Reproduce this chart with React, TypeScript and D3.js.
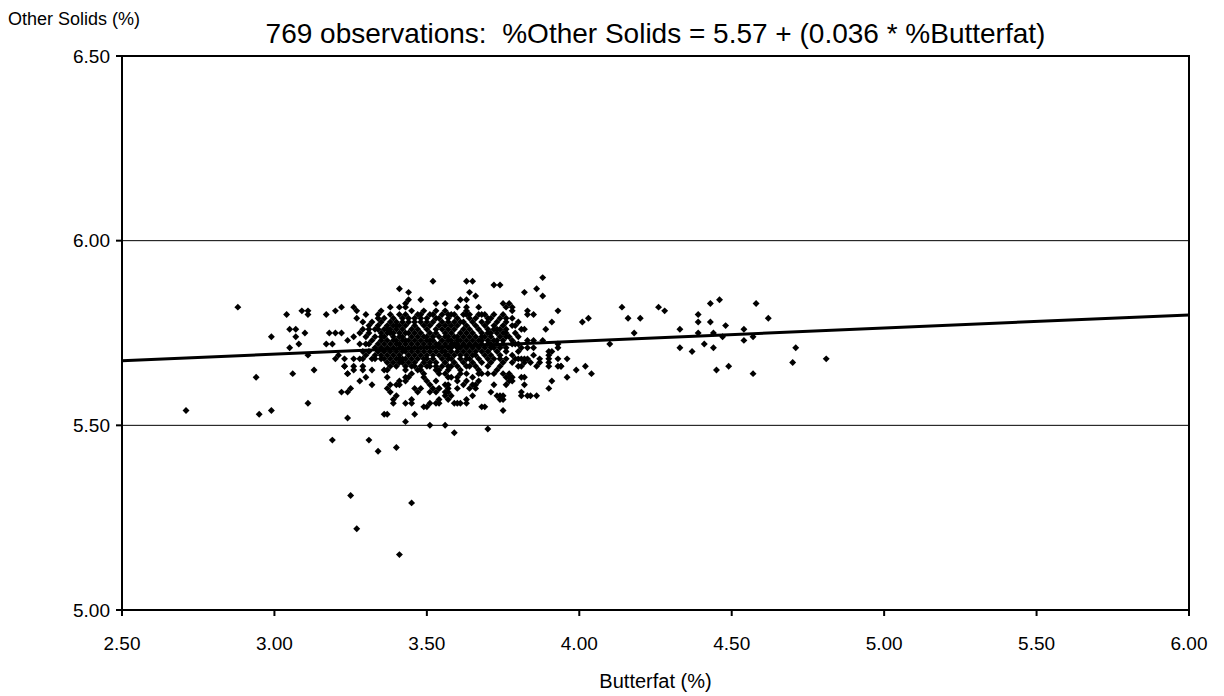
import React from 'react';
import * as d3 from 'd3';

// values
const xTicks = [2.5, 3.0, 3.5, 4.0, 4.5, 5.0, 5.5, 6.0];
const yTicks = [5.0, 5.5, 6.0, 6.5];
const gridValues = [5.5, 6.0];
const fitLine: [number, number][] = [[2.5, 5.675], [6.0, 5.799]];

const sparseLeft: [number, number][] = [
  [2.71,5.54],[2.88,5.82],[2.94,5.63],[2.95,5.53],[2.99,5.54],[2.99,5.74],[3.04,5.80],[3.05,5.76],[3.05,5.71],[3.06,5.64],
  [3.07,5.76],[3.07,5.74],[3.08,5.72],[3.09,5.81],[3.10,5.75],[3.11,5.81],[3.11,5.80],[3.11,5.69],[3.11,5.56],[3.13,5.65],
  [3.17,5.80],[3.17,5.72],[3.18,5.75],[3.19,5.72],[3.20,5.81],[3.21,5.69],[3.22,5.82],[3.22,5.75],[3.22,5.59],[3.23,5.66],
  [3.24,5.64],[3.24,5.59],[3.24,5.52],[3.25,5.60],[3.26,5.82],[3.26,5.66],[3.26,5.68],[3.26,5.65],[3.27,5.81],[3.28,5.68],
  [3.28,5.62],[3.29,5.65],[3.30,5.80],[3.30,5.63],[3.32,5.65],[3.32,5.61],[3.34,5.80],[3.27,5.79],[3.29,5.78],[3.34,5.79],
  [3.35,5.81],[3.26,5.74],[3.28,5.75],[3.24,5.73],[3.28,5.72],[3.30,5.72],[3.29,5.70],[3.20,5.68],[3.23,5.68],[3.29,5.68],
  [3.32,5.68],[3.20,5.75],[3.23,5.66],[3.24,5.64],
];

const lowPoints: [number, number][] = [
  [3.19,5.46],[3.31,5.46],[3.34,5.43],[3.40,5.44],[3.25,5.31],[3.27,5.22],[3.41,5.15],[3.45,5.29],[3.59,5.48],[3.51,5.50],
  [3.56,5.50],[3.70,5.49],[3.43,5.51],[3.36,5.53],[3.37,5.53],[3.46,5.53],[3.68,5.55],[3.75,5.54],[3.69,5.55],
];

const upperPoints: [number, number][] = [
  [3.52,5.89],[3.63,5.89],[3.65,5.89],[3.72,5.88],[3.74,5.88],[3.88,5.90],[3.82,5.86],[3.86,5.87],[3.88,5.85],[3.41,5.87],
  [3.44,5.86],[3.64,5.86],[3.66,5.85],[3.48,5.84],[3.53,5.83],[3.56,5.83],[3.61,5.84],[3.63,5.84],[3.63,5.82],[3.60,5.82],
  [3.75,5.83],[3.77,5.83],[3.76,5.82],[3.78,5.82],[3.78,5.81],[3.83,5.81],[3.83,5.80],[3.85,5.80],[3.93,5.81],[3.38,5.82],
  [3.41,5.82],[3.43,5.82],[3.43,5.83],[3.44,5.84],[3.72,5.80],[3.70,5.79],[3.68,5.80],[3.69,5.80],[3.76,5.79],[3.67,5.82],
  [3.63,5.81],[3.63,5.80],[3.64,5.80],[3.58,5.80],[3.56,5.81],[3.57,5.80],[3.61,5.78],[3.41,5.80],[3.42,5.78],[3.44,5.79],
  [3.45,5.81],[3.47,5.80],[3.49,5.81],[3.51,5.80],[3.53,5.81],[3.53,5.79],[3.55,5.80],[3.32,5.78],[3.34,5.76],[3.37,5.76],
  [3.39,5.75],[3.40,5.77],[3.78,5.77],[3.82,5.76],[3.81,5.76],[3.91,5.78],[3.89,5.76],[3.73,5.76],[3.75,5.75],[3.77,5.74],
  [3.78,5.73],
];

const sideCorePoints: [number, number][] = [
  [3.72,5.73],[3.75,5.72],[3.78,5.72],[3.80,5.72],[3.81,5.71],[3.85,5.71],[3.88,5.73],[3.85,5.73],[3.90,5.70],[3.91,5.70],
  [3.93,5.71],[3.93,5.72],[3.93,5.68],[3.90,5.69],[3.90,5.68],[3.90,5.67],[3.87,5.67],[3.87,5.68],[3.85,5.69],[3.83,5.68],
  [3.81,5.68],[3.82,5.68],[3.80,5.68],[3.79,5.68],[3.76,5.68],[3.74,5.69],[3.76,5.70],[3.74,5.68],[3.78,5.67],[3.80,5.66],
  [3.82,5.67],[3.84,5.67],[3.86,5.66],[3.90,5.66],[3.94,5.66],[3.96,5.68],
];

const lowerPoints: [number, number][] = [
  [3.77,5.64],[3.78,5.63],[3.72,5.61],[3.60,5.60],[3.62,5.61],[3.66,5.61],[3.67,5.62],[3.57,5.61],[3.54,5.60],[3.53,5.59],
  [3.51,5.59],[3.53,5.65],[3.54,5.64],[3.57,5.63],[3.60,5.63],[3.64,5.66],[3.63,5.64],[3.65,5.63],[3.49,5.64],[3.47,5.65],
  [3.50,5.66],[3.44,5.63],[3.43,5.65],[3.42,5.67],[3.41,5.68],[3.36,5.68],[3.38,5.66],[3.36,5.65],[3.29,5.66],[3.33,5.68],
  [3.43,5.56],[3.45,5.56],[3.49,5.55],[3.50,5.55],[3.53,5.56],[3.54,5.56],[3.57,5.57],[3.58,5.58],[3.59,5.56],[3.61,5.56],
  [3.63,5.56],[3.65,5.58],[3.73,5.58],[3.74,5.58],[3.81,5.58],[3.83,5.58],[3.86,5.58],[3.90,5.60],[3.91,5.62],[3.81,5.63],
  [3.81,5.66],[3.93,5.66],[3.38,5.61],[3.38,5.59],[3.40,5.58],[3.39,5.56],[3.41,5.62],[3.43,5.62],[3.46,5.60],[3.48,5.60],
  [3.47,5.59],[3.37,5.60],[3.39,5.57],[3.45,5.57],[3.51,5.56],[3.54,5.57],[3.56,5.58],[3.52,5.60],[3.54,5.60],[3.56,5.59],
  [3.37,5.65],[3.37,5.63],[3.40,5.61],[3.41,5.61],[3.43,5.63],[3.45,5.64],[3.45,5.66],[3.48,5.65],[3.49,5.63],[3.50,5.62],
  [3.51,5.61],[3.53,5.62],[3.54,5.65],[3.56,5.64],[3.57,5.65],[3.56,5.61],[3.57,5.66],[3.58,5.63],[3.57,5.60],[3.57,5.59],
  [3.60,5.56],[3.61,5.64],[3.61,5.65],[3.60,5.62],[3.63,5.62],[3.67,5.65],[3.67,5.64],[3.65,5.61],[3.66,5.60],[3.64,5.60],
  [3.63,5.57],[3.68,5.64],[3.70,5.64],[3.72,5.64],[3.73,5.65],[3.74,5.66],[3.75,5.64],[3.76,5.63],[3.77,5.63],[3.78,5.62],
  [3.77,5.62],[3.71,5.59],[3.75,5.58],[3.75,5.57],[3.74,5.57],[3.76,5.61],[3.82,5.63],[3.82,5.61],[3.81,5.59],[3.84,5.58],
  [3.96,5.63],[3.99,5.65],
];

const rightPoints: [number, number][] = [
  [3.94,5.66],[4.02,5.66],[4.04,5.64],[4.01,5.78],[4.03,5.79],[4.14,5.82],[4.16,5.79],[4.20,5.79],[4.18,5.75],[4.26,5.82],
  [4.28,5.81],[4.10,5.72],[4.33,5.76],[4.33,5.71],[4.37,5.70],[4.41,5.72],[4.39,5.80],[4.39,5.78],[4.39,5.75],[4.43,5.83],
  [4.46,5.84],[4.43,5.78],[4.44,5.75],[4.44,5.71],[4.48,5.77],[4.47,5.74],[4.45,5.65],[4.49,5.66],[4.58,5.83],[4.54,5.76],
  [4.54,5.73],[4.57,5.74],[4.62,5.79],[4.57,5.64],[4.70,5.67],[4.71,5.71],[4.81,5.68],
];

// dense middle of the cloud, one row per %Other Solids value
const coreRows: [number, number[]][] = [
  [5.80, [3.38,3.43,3.48,3.52,3.59,3.62,3.67,3.75]],
  [5.79, [3.36,3.39,3.42,3.46,3.48,3.50,3.54,3.57,3.60,3.64,3.66,3.71,3.74,3.78]],
  [5.78, [3.35,3.38,3.40,3.44,3.46,3.48,3.50,3.52,3.55,3.57,3.59,3.62,3.65,3.68,3.70,3.73,3.76,3.80]],
  [5.77, [3.31,3.34,3.37,3.39,3.41,3.43,3.46,3.49,3.51,3.54,3.56,3.58,3.60,3.63,3.66,3.69,3.72,3.75,3.79]],
  [5.76, [3.29,3.31,3.33,3.36,3.38,3.40,3.42,3.45,3.47,3.50,3.53,3.55,3.57,3.59,3.62,3.64,3.67,3.70,3.72,3.74,3.76]],
  [5.75, [3.31,3.35,3.37,3.38,3.41,3.43,3.44,3.46,3.48,3.51,3.53,3.56,3.58,3.61,3.63,3.65,3.68,3.70,3.71,3.73,3.76,3.79]],
  [5.74, [3.30,3.33,3.35,3.36,3.39,3.41,3.42,3.45,3.47,3.49,3.50,3.52,3.54,3.56,3.57,3.59,3.60,3.62,3.64,3.66,3.68,3.69,3.71,3.74,3.76,3.80]],
  [5.73, [3.32,3.35,3.37,3.39,3.40,3.42,3.43,3.44,3.46,3.48,3.50,3.51,3.52,3.55,3.57,3.58,3.60,3.61,3.63,3.65,3.67,3.68,3.70,3.73,3.75,3.83]],
  [5.72, [3.31,3.34,3.36,3.38,3.40,3.41,3.43,3.45,3.47,3.49,3.51,3.53,3.54,3.56,3.58,3.59,3.60,3.62,3.64,3.66,3.68,3.70,3.71,3.73,3.79]],
  [5.71, [3.33,3.35,3.37,3.39,3.41,3.42,3.44,3.46,3.48,3.50,3.52,3.54,3.55,3.57,3.58,3.60,3.61,3.63,3.65,3.67,3.69,3.71,3.72,3.74,3.76,3.83]],
  [5.70, [3.31,3.34,3.36,3.38,3.40,3.42,3.43,3.45,3.47,3.49,3.51,3.53,3.55,3.56,3.58,3.60,3.62,3.64,3.66,3.68,3.70,3.73,3.80]],
  [5.69, [3.30,3.33,3.35,3.37,3.39,3.41,3.44,3.46,3.48,3.50,3.52,3.54,3.56,3.57,3.59,3.61,3.63,3.65,3.66,3.69,3.71,3.78]],
  [5.68, [3.35,3.38,3.40,3.42,3.43,3.45,3.47,3.49,3.50,3.52,3.55,3.57,3.58,3.61,3.63,3.64,3.67,3.70,3.72]],
  [5.67, [3.37,3.39,3.41,3.44,3.46,3.49,3.51,3.53,3.56,3.59,3.62,3.65,3.68,3.71,3.75]],
  [5.66, [3.40,3.43,3.46,3.48,3.51,3.53,3.55,3.58,3.60,3.63,3.66,3.70]],
];

const width = 1224;
const height = 696;
const margin = { top: 56, right: 35, bottom: 86, left: 122 };
const font = 'Arial, "Liberation Sans", sans-serif';

const App: React.FC = () => {
  const innerW = width - margin.left - margin.right;
  const innerH = height - margin.top - margin.bottom;
  const x = d3.scaleLinear().domain([2.5, 6.0]).range([0, innerW]);
  const y = d3.scaleLinear().domain([5.0, 6.5]).range([innerH, 0]);
  const fmt = d3.format('.2f');

  const corePoints: [number, number][] = coreRows.flatMap(([yv, xs]) => xs.map(xv => [xv, yv] as [number, number]));
  const points = [...sparseLeft, ...lowPoints, ...upperPoints, ...sideCorePoints, ...lowerPoints, ...rightPoints, ...corePoints];

  const marker = d3.symbol().type(d3.symbolSquare).size(24)() as string;
  const line = d3.line<[number, number]>().x(d => x(d[0])).y(d => y(d[1]));

  return (
    <svg
      width={width}
      height={height}
      style={{ position: 'absolute', left: 0, top: 0, background: '#fff' }}
      fontFamily={font}
    >
      <text x={8} y={25} fontSize={18} fill="#000">Other Solids (%)</text>
      <text x={margin.left + innerW / 2} y={43} fontSize={28} textAnchor="middle" fill="#000">
        769 observations:{'\u00a0\u00a0'}%Other Solids = 5.57 + (0.036 * %Butterfat)
      </text>
      <g transform={`translate(${margin.left},${margin.top})`}>
        {gridValues.map(v => (
          <line key={v} x1={0} x2={innerW} y1={y(v)} y2={y(v)} stroke="#000" strokeWidth={1} />
        ))}
        {points.map((p, i) => (
          <path key={i} d={marker} transform={`translate(${x(p[0])},${y(p[1])}) rotate(45)`} fill="#000" />
        ))}
        <path d={line(fitLine) as string} fill="none" stroke="#000" strokeWidth={3} />
        <rect x={0} y={0} width={innerW} height={innerH} fill="none" stroke="#000" strokeWidth={2} />
        {yTicks.map(v => (
          <g key={v} transform={`translate(0,${y(v)})`}>
            <line x1={-6} x2={0} stroke="#000" strokeWidth={2} />
            <text x={-12} dy="0.35em" fontSize={19} textAnchor="end" fill="#000">{fmt(v)}</text>
          </g>
        ))}
        {xTicks.map(v => (
          <g key={v} transform={`translate(${x(v)},${innerH})`}>
            <line y1={0} y2={6} stroke="#000" strokeWidth={2} />
            <text y={40} fontSize={19} textAnchor="middle" fill="#000">{fmt(v)}</text>
          </g>
        ))}
        <text x={innerW / 2} y={innerH + 78} fontSize={20} textAnchor="middle" fill="#000">Butterfat (%)</text>
      </g>
    </svg>
  );
};

export default App;
